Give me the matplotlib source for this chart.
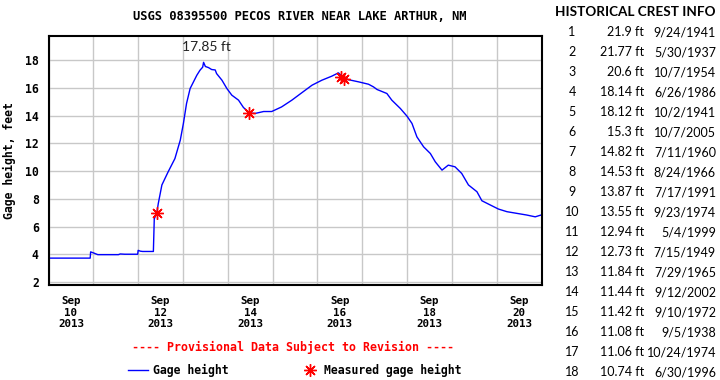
import numpy as np
import pandas as pd
import matplotlib
matplotlib.use("Agg")
import matplotlib.pyplot as plt
import matplotlib.dates as mdates
from matplotlib.lines import Line2D

# gage readings (days after 2013-09-10 00:00, feet)
day = [0, 0.93, 0.94, 1.0, 1.1, 1.56, 1.6, 1.7, 1.99, 2.0, 2.05, 2.1, 2.34,
       2.36, 2.415, 2.45, 2.53, 2.67, 2.82, 2.94, 3.01, 3.08, 3.16, 3.31,
       3.38, 3.44, 3.46, 3.5, 3.57, 3.64, 3.72, 3.75, 3.87, 3.98, 4.09, 4.24,
       4.35, 4.45, 4.48, 4.61, 4.8, 4.98, 5.2, 5.43, 5.65, 5.88, 6.1, 6.32,
       6.47, 6.56, 6.69, 6.92, 7.14, 7.25, 7.33, 7.55, 7.66, 7.85, 8.0, 8.11,
       8.22, 8.37, 8.52, 8.63, 8.78, 8.92, 9.07, 9.22, 9.37, 9.56, 9.67, 9.86,
       10.04, 10.23, 10.45, 10.67, 10.86, 10.99]
gage = [3.72, 3.72, 4.17, 4.1, 3.97, 3.97, 4.02, 4.0, 4.0, 4.28, 4.22, 4.2, 4.2,
        6.56, 6.95, 7.67, 9.0, 9.95, 10.9, 12.23, 13.44, 14.88, 15.96, 16.92,
        17.28, 17.5, 17.85, 17.55, 17.47, 17.33, 17.3, 17.04, 16.56, 15.96, 15.48, 15.12,
        14.59, 14.3, 14.2, 14.16, 14.3, 14.3, 14.63, 15.12, 15.65, 16.2, 16.56, 16.85,
        17.09, 16.8, 16.6, 16.44, 16.27, 16.08, 15.89, 15.6, 15.12, 14.52, 13.96, 13.44,
        12.47, 11.75, 11.27, 10.67, 10.07, 10.43, 10.31, 9.83, 9.0, 8.51, 7.86, 7.55,
        7.26, 7.07, 6.95, 6.83, 6.7, 6.83]

meas_day = [2.415, 4.48, 6.53, 6.6]
meas_gage = [6.95, 14.16, 16.8, 16.65]

peak_label = "17.85 ft"

crest_rank = list(range(1, 19))
crest_ft = [21.9, 21.77, 20.6, 18.14, 18.12, 15.3, 14.82, 14.53, 13.87, 13.55,
            12.94, 12.73, 11.84, 11.44, 11.42, 11.08, 11.06, 10.74]
crest_date = ["9/24/1941", "5/30/1937", "10/7/1954", "6/26/1986", "10/2/1941",
              "10/7/2005", "7/11/1960", "8/24/1966", "7/17/1991", "9/23/1974",
              "5/4/1999", "7/15/1949", "7/29/1965", "9/12/2002", "9/10/1972",
              "9/5/1938", "10/24/1974", "6/30/1996"]

start = pd.Timestamp("2013-09-10")
t = start + pd.to_timedelta(day, unit="D")
tm = start + pd.to_timedelta(meas_day, unit="D")

mono = "DejaVu Sans Mono"
W, H = 720, 380

fig = plt.figure(figsize=(7.2, 3.8), dpi=100)
ax = fig.add_axes([48.5 / W, 1 - 285 / H, 493 / W, 249 / H])

ax.plot(t, gage, color="#0000ff", lw=1.0)
ax.plot(tm, meas_gage, ls="none", marker=(8, 2, 0), ms=9, mew=1.0, color="#ff0000")

ax.set_xlim(start, start + pd.Timedelta(days=11))
ax.set_ylim(1.78, 19.75)

# grid at midnight, labels at noon
ax.xaxis.set_major_locator(mdates.DayLocator())
ax.xaxis.set_major_formatter(plt.NullFormatter())
noon = [start + pd.Timedelta(days=d, hours=12) for d in range(0, 11, 2)]
ax.set_xticks(noon, minor=True)
ax.set_xticklabels([f"Sep\n{n.day}\n2013" for n in noon], minor=True,
                   family=mono, fontweight="bold", fontsize=7.8)
ax.set_yticks(np.arange(2, 19, 2))
ax.set_yticklabels([str(v) for v in range(2, 19, 2)], family=mono,
                   fontweight="bold", fontsize=8.3)
ax.tick_params(axis="both", which="both", length=0)
ax.tick_params(axis="x", which="minor", pad=8)
ax.tick_params(axis="y", pad=7)
ax.grid(True, which="major", color="#c8c8c8", lw=1.0)
ax.set_axisbelow(True)
for s in ax.spines.values():
    s.set_linewidth(1.5)
    s.set_color("black")

ax.set_ylabel("Gage height, feet", family=mono, fontweight="bold", fontsize=8.3)
ax.yaxis.set_label_coords(-0.066, 0.5)

ipk = int(np.argmax(gage))
ax.annotate(peak_label, (t[ipk], gage[ipk]), xytext=(2, 11), textcoords="offset points",
            ha="center", va="center", family="Lato", fontsize=10, color="#222222",
            annotation_clip=False)

fig.text(300 / W, 1 - 17 / H, "USGS 08395500 PECOS RIVER NEAR LAKE ARTHUR, NM",
         ha="center", va="center", family=mono, fontweight="bold", fontsize=8.7)
fig.text(293.5 / W, 1 - 347 / H, "---- Provisional Data Subject to Revision ----",
         ha="center", va="center", family=mono, fontweight="bold", fontsize=8.4,
         color="#ff0000")

handles = [Line2D([], [], color="#0000ff", lw=1.0),
           Line2D([], [], ls="none", marker=(8, 2, 0), ms=9, mew=1.0, color="#ff0000")]
leg = fig.legend(handles, ["Gage height", "Measured gage height"], ncol=2,
                 loc="center", bbox_to_anchor=(295 / W, 1 - 370 / H), frameon=False,
                 handlelength=1.7, handletextpad=0.4, columnspacing=6.2,
                 prop={"family": mono, "weight": "bold", "size": 8.3})

# historical crest table
fig.text(635 / W, 1 - 12 / H, "HISTORICAL CREST INFO", ha="center", va="center",
         family="Lato", fontweight="bold", fontsize=9.7)
for i, (r, ft, dt) in enumerate(zip(crest_rank, crest_ft, crest_date)):
    y = 1 - (32.3 + 20 * i) / H
    fig.text(572 / W, y, str(r), ha="center", va="center", family="Lato", fontsize=9)
    fig.text(644 / W, y, f"{ft:g} ft", ha="right", va="center", family="Lato", fontsize=9)
    fig.text(716 / W, y, dt, ha="right", va="center", family="Lato", fontsize=9)

fig.savefig("out.png", dpi=100)
